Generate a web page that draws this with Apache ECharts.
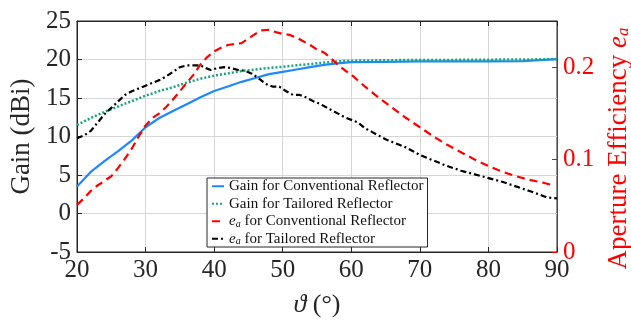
<!DOCTYPE html>
<html><head><meta charset="utf-8">
<script src="https://cdn.jsdelivr.net/npm/echarts@6/dist/echarts.min.js"></script>
<style>html,body{margin:0;padding:0;background:#fff}#c{width:631px;height:320px}</style>
</head><body><div id="c"></div>
<script>
const thetaGain = [20,22,24,26,28,30,32,34,36,38,40,42,44,46,48,50,52,54,56,58,60,65,70,75,80,85,90];
const gainConventional = [3.5,5.4,6.8,8.1,9.5,11.2,12.4,13.3,14.2,15.1,15.9,16.5,17.1,17.6,18.1,18.4,18.7,19.0,19.3,19.5,19.65,19.7,19.75,19.75,19.75,19.8,20.05];
const gainTailored = [11.5,12.4,13.2,13.9,14.6,15.3,15.9,16.4,17.0,17.5,17.9,18.2,18.5,18.7,18.9,19.05,19.25,19.4,19.6,19.75,19.85,19.9,19.95,19.95,19.98,20.0,20.05];

const thetaEffConv = [20,21,22,23,24,25,26,27,28,29,30,31,32,33,34,35,36,37,38,39,40,41,42,43,44,45,46,47,48,49,50,51,52,53,54,55,56,57,58,59,60,62,64,66,68,70,72,74,76,78,80,82,84,86,88,89.5];
const effConventional = [0.051,0.058,0.066,0.072,0.077,0.082,0.091,0.101,0.112,0.125,0.137,0.145,0.150,0.157,0.165,0.174,0.183,0.192,0.203,0.211,0.217,0.221,0.224,0.225,0.226,0.231,0.236,0.240,0.2405,0.238,0.236,0.235,0.232,0.228,0.224,0.219,0.216,0.210,0.203,0.197,0.192,0.179,0.167,0.156,0.145,0.135,0.125,0.116,0.108,0.100,0.093,0.087,0.082,0.078,0.075,0.072];

const thetaEffTail = [20,21,22,23,24,25,26,27,28,29,30,31,32,33,34,35,36,37,38,38.8,39.5,40.5,41.5,42.5,43.5,44.5,45.5,46.5,47.5,48.5,49.5,50.5,51.5,52.5,53.5,54.5,55.5,57,58,59,60,61,62,63,64,65,66,67,68,69,70,72,74,76,78,80,82,84,86,87.5,88.5,90];
const effTailored = [0.123,0.126,0.131,0.140,0.149,0.156,0.163,0.170,0.174,0.177,0.180,0.183,0.186,0.190,0.195,0.200,0.202,0.202,0.202,0.199,0.197,0.199,0.200,0.199,0.197,0.196,0.193,0.188,0.182,0.179,0.179,0.174,0.170,0.170,0.167,0.163,0.160,0.154,0.150,0.146,0.143,0.140,0.134,0.130,0.126,0.122,0.119,0.116,0.113,0.109,0.105,0.099,0.093,0.088,0.084,0.080,0.076,0.071,0.066,0.062,0.059,0.058];

const seriesNames = ['Gain for Conventional Reflector','Gain for Tailored Reflector','ea for Conventional Reflector','ea for Tailored Reflector'];
const xAxisName = '{i|ϑ} (°)';
const yLeftName = 'Gain (dBi)';
const yRightName = '{n|Aperture Efficiency }{i|e}{s|a}';

const FONT = 'Liberation Serif, DejaVu Serif, serif';
const INK = '#262626';
function pairs(xs, ys){ return xs.map((x,i)=>[x, ys[i]]); }

const chart = echarts.init(document.getElementById('c'), null, {renderer:'canvas'});
chart.setOption({
  animation:false,
  backgroundColor:'#fff',
  grid:{left:77,right:74,top:21,bottom:68,containLabel:false,outerBoundsMode:'none',
        show:true,borderColor:INK,borderWidth:1,backgroundColor:'transparent'},
  legend:{
    orient:'vertical', left:207, top:178,
    backgroundColor:'#fff', borderColor:INK, borderWidth:1,
    padding:[0,4,0,4], itemGap:1, itemWidth:12, itemHeight:10,
    itemStyle:{opacity:0},
    data:seriesNames,
    formatter:function(n){
      if(n.indexOf('ea ')===0){ return '{i|e}{s|a}' + n.slice(2); }
      return n;
    },
    textStyle:{fontFamily:FONT,fontSize:15,color:'#111',lineHeight:16.5,
      rich:{i:{fontFamily:FONT,fontSize:15,fontStyle:'italic',color:'#111'},
            s:{fontFamily:FONT,fontSize:10,fontStyle:'italic',color:'#111',padding:[6,0,0,0]}}}
  },
  xAxis:[{
    type:'value', min:20, max:90, interval:10,
    name:xAxisName, nameLocation:'middle', nameGap:40,
    nameTextStyle:{fontFamily:FONT,fontSize:26,color:INK,
      rich:{i:{fontFamily:FONT,fontSize:26,fontStyle:'italic',color:INK}}},
    axisLine:{show:true,onZero:false,lineStyle:{color:INK,width:1}},
    axisTick:{show:true,inside:true,length:5,lineStyle:{color:INK}},
    axisLabel:{fontFamily:FONT,fontSize:25,color:INK,margin:6},
    splitLine:{show:true,lineStyle:{color:'#d6d6d6',width:1}}
  },{
    type:'value', min:20, max:90, interval:10, position:'top',
    axisLine:{show:true,onZero:false,lineStyle:{color:INK,width:1}},
    axisTick:{show:true,inside:true,length:5,lineStyle:{color:INK}},
    axisLabel:{show:false}, splitLine:{show:false}
  }],
  yAxis:[{
    type:'value', min:-5, max:25, interval:5, position:'left',
    name:yLeftName, nameLocation:'middle', nameGap:40,
    nameTextStyle:{fontFamily:FONT,fontSize:27,color:INK},
    axisLine:{show:true,onZero:false,lineStyle:{color:INK,width:1}},
    axisTick:{show:true,inside:true,length:5,lineStyle:{color:INK}},
    axisLabel:{fontFamily:FONT,fontSize:25,color:INK,margin:6},
    splitLine:{show:true,lineStyle:{color:'#d6d6d6',width:1}}
  },{
    type:'value', min:0, max:0.25, interval:0.1, position:'right',
    name:yRightName, nameLocation:'middle', nameGap:46,
    nameTextStyle:{fontFamily:FONT,fontSize:27,color:'#ff0000',padding:[0,24,0,0],
      rich:{n:{fontFamily:FONT,fontSize:27,color:'#ff0000'},
            i:{fontFamily:FONT,fontSize:27,fontStyle:'italic',color:'#ff0000'},
            s:{fontFamily:FONT,fontSize:17,fontStyle:'italic',color:'#ff0000',padding:[10,0,0,0]}}},
    axisLine:{show:true,onZero:false,lineStyle:{color:'#ff0000',width:1}},
    axisTick:{show:true,inside:true,length:5,lineStyle:{color:'#ff0000'}},
    axisLabel:{fontFamily:FONT,fontSize:25,color:'#ff0000',margin:6,showMaxLabel:false},
    splitLine:{show:false}
  }],
  series:[
    {name:seriesNames[0],type:'line',xAxisIndex:0,yAxisIndex:0,symbol:'none',
     data:pairs(thetaGain,gainConventional),
     lineStyle:{color:'#1e88ff',width:2.2,type:'solid'},itemStyle:{color:'#1e88ff'}},
    {name:seriesNames[1],type:'line',xAxisIndex:0,yAxisIndex:0,symbol:'none',
     data:pairs(thetaGain,gainTailored),
     lineStyle:{color:'#17a67a',width:2.5,type:[2,2]},itemStyle:{color:'#17a67a'}},
    {name:seriesNames[2],type:'line',xAxisIndex:0,yAxisIndex:1,symbol:'none',
     data:pairs(thetaEffConv,effConventional),
     lineStyle:{color:'#ff0000',width:2.2,type:[8,5]},itemStyle:{color:'#ff0000'}},
    {name:seriesNames[3],type:'line',xAxisIndex:0,yAxisIndex:1,symbol:'none',
     data:pairs(thetaEffTail,effTailored),
     lineStyle:{color:'#000000',width:2.2,type:[6,3,2,3]},itemStyle:{color:'#000000'}}
  ]
});
</script></body></html>
